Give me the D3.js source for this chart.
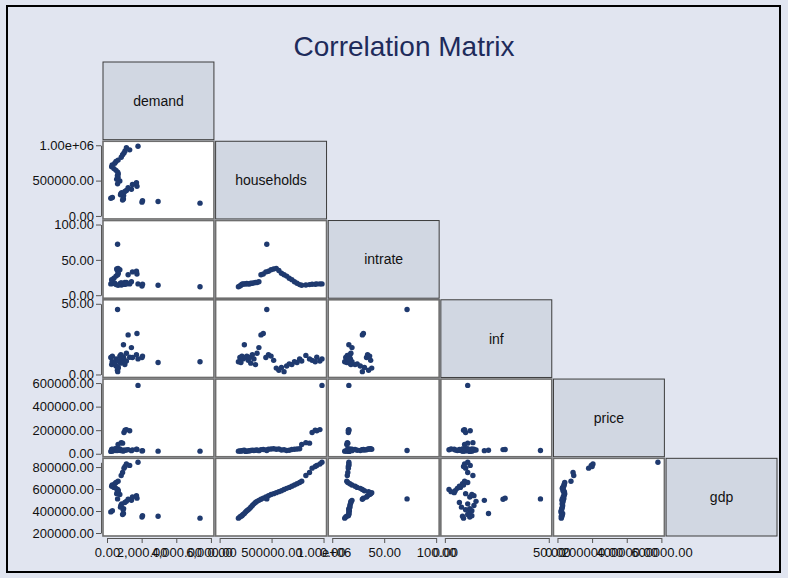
<!DOCTYPE html>
<html>
<head>
<meta charset="utf-8">
<script src="https://cdn.jsdelivr.net/npm/d3@7"></script>
<style>
  body { margin: 0; background: #ffffff; }
  svg { display: block; }
  text { font-family: "Liberation Sans", Arial, Helvetica, sans-serif; }
</style>
</head>
<body>
<svg id="chart" width="788" height="578"></svg>
<script>
// Variables shown in the lower-triangle scatter matrix, in display order
const variables = ["demand", "households", "intrate", "inf", "price", "gdp"];

// One value per observation (same order in every array)
const demand = [5370, 2020, 2950, 2050, 900, 950, 220, 310, 930, 960, 780, 800, 850, 1030, 1120, 1410,
  1220, 1730, 1470, 1700, 740, 560, 640, 600, 650, 620, 520, 400, 270, 300, 450, 520,
  640, 820, 900, 980, 1040, 1310, 1120, 1790, 610];
const households = [181000, 195000, 205000, 215000, 225000, 238000, 250000, 262000, 275000, 288000,
  300000, 315000, 330000, 345000, 360000, 378000, 398000, 420000, 445000, 470000, 495000, 520000,
  545000, 570000, 595000, 620000, 645000, 670000, 695000, 720000, 745000, 770000,
  790000, 830000, 865000, 890000, 920000, 935000, 965000, 985000, 454000];
const intrate = [12, 13, 14, 15.5, 16, 16, 16, 16.5, 16, 16, 17, 17, 17.5, 18, 18, 19,
  29, 30, 33, 34, 36, 37, 38, 35, 31, 29, 27, 24, 22, 19, 17, 15,
  14, 14.5, 15, 15.5, 15.5, 16, 16, 16, 72];
const inf = [9, 12, 8.5, 13, 11, 21, 12, 13, 10, 12, 8, 14, 11, 7, 15, 19,
  28, 29, 12, 14, 13, 10, 4.5, 3, 5, 2, 6, 7.5, 7, 9, 8.5, 11,
  9.5, 13.5, 11, 10, 9, 12.2, 9.5, 11, 46];
const price = [22000, 24000, 22000, 26000, 28000, 30000, 20000, 22000, 24000, 25000, 28000, 30000,
  27000, 30000, 32000, 26000, 35000, 36000, 33000, 38000, 40000, 42000, 38000, 40000, 32000,
  34000, 28000, 30000, 36000, 38000, 40000, 42000,
  78000, 94000, 90000, 180000, 200000, 195000, 205000, 580000, 28000];
const gdp = [335000, 345000, 352000, 358000, 368000, 378000, 392000, 402000, 412000, 422000,
  435000, 450000, 465000, 478000, 488000, 497000, 507000, 517000, 528000, 540000, 550000, 558000,
  567000, 576000, 585000, 596000, 606000, 615000, 625000, 636000, 648000, 660000,
  671000, 723000, 751000, 790000, 805000, 815000, 828000, 843000, 510000];

// Axis ticks and their printed labels
const demandTicks = [0, 2000, 4000, 6000];
const demandLabels = ["0.00", "2,000.00", "4,000.00", "6,000.00"];
const householdsTicks = [0, 500000, 1000000];
const householdsLabels = ["0.00", "500000.00", "1.00e+06"];
const intrateTicks = [0, 50, 100];
const intrateLabels = ["0.00", "50.00", "100.00"];
const infTicks = [0, 50];
const infLabels = ["0.00", "50.00"];
const priceTicks = [0, 200000, 400000, 600000];
const priceLabels = ["0.00", "200000.00", "400000.00", "600000.00"];
const gdpTicks = [200000, 400000, 600000, 800000];
const gdpLabels = ["200000.00", "400000.00", "600000.00", "800000.00"];

const title = "Correlation Matrix";

const values = { demand, households, intrate, inf, price, gdp };
const ticks = { demand: demandTicks, households: householdsTicks, intrate: intrateTicks,
  inf: infTicks, price: priceTicks, gdp: gdpTicks };
const tickLabels = { demand: demandLabels, households: householdsLabels, intrate: intrateLabels,
  inf: infLabels, price: priceLabels, gdp: gdpLabels };

const W = 788, H = 578;
const svg = d3.select("#chart");

// page background and frame
svg.append("rect").attr("width", W).attr("height", H).attr("fill", "#e1e5f0");
svg.append("rect").attr("x", 7).attr("y", 6).attr("width", 773).attr("height", 566)
  .attr("fill", "none").attr("stroke", "#000").attr("stroke-width", 2);

svg.append("text")
  .attr("x", 404).attr("y", 56)
  .attr("text-anchor", "middle")
  .attr("font-size", 28)
  .attr("fill", "#1e2b5b")
  .text(title);

// matrix layout
const n = variables.length;
const cellX = d3.scaleBand().domain(d3.range(n)).range([103, 777]).paddingInner(0.015);
const cellY = d3.scaleBand().domain(d3.range(n)).range([62, 536]).paddingInner(0.02);
const bw = cellX.bandwidth(), bh = cellY.bandwidth();

// each variable's scale covers its data and its tick range
function extentOf(v) {
  const t = ticks[v], d = values[v];
  return [Math.min(d3.min(d), t[0]), Math.max(d3.max(d), t[t.length - 1])];
}
const xScale = {}, yScale = {};
variables.forEach((v, k) => {
  const x0 = cellX(k), y0 = cellY(k);
  xScale[v] = d3.scaleLinear().domain(extentOf(v)).range([x0 + 4, x0 + bw - 3]);
  yScale[v] = d3.scaleLinear().domain(extentOf(v)).range([y0 + bh - 3, y0 + 4]);
});

const nObs = demand.length;
const markerColor = "#1f3a6f";

for (let i = 0; i < n; i++) {
  for (let j = 0; j <= i; j++) {
    const g = svg.append("g");
    const x0 = cellX(j), y0 = cellY(i);
    if (i === j) {
      g.append("rect").attr("x", x0).attr("y", y0).attr("width", bw).attr("height", bh)
        .attr("fill", "#d1d7e2").attr("stroke", "#3c3c3c").attr("stroke-width", 1);
      g.append("text")
        .attr("x", x0 + bw / 2).attr("y", y0 + bh / 2)
        .attr("dy", "0.35em")
        .attr("text-anchor", "middle")
        .attr("font-size", 14)
        .attr("fill", "#111")
        .text(variables[i]);
    } else {
      const vx = variables[j], vy = variables[i];
      g.append("rect").attr("x", x0).attr("y", y0).attr("width", bw).attr("height", bh)
        .attr("fill", "#ffffff").attr("stroke", "#6e6e6e").attr("stroke-width", 1.6);
      g.selectAll("circle")
        .data(d3.range(nObs))
        .join("circle")
        .attr("cx", k => xScale[vx](values[vx][k]))
        .attr("cy", k => yScale[vy](values[vy][k]))
        .attr("r", 2.7)
        .attr("fill", markerColor);
    }
  }
}

// left axes: one per row, for the variable plotted vertically
for (let i = 1; i < n; i++) {
  const v = variables[i];
  const labels = tickLabels[v];
  const ax = d3.axisLeft(yScale[v])
    .tickValues(ticks[v])
    .tickFormat((d, k) => labels[k])
    .tickSize(5).tickSizeOuter(0).tickPadding(2);
  const g = svg.append("g").attr("transform", `translate(${cellX(0) - 2},0)`).call(ax);
  g.select(".domain").attr("stroke", "#555");
  g.selectAll(".tick line").attr("stroke", "#555");
  g.selectAll(".tick text").attr("font-size", 13).attr("fill", "#111")
    .attr("font-family", "'Liberation Sans', Arial, sans-serif");
}

// bottom axes: one per column, for the variable plotted horizontally
const axisY = cellY(n - 1) + bh + 2;
for (let j = 0; j < n - 1; j++) {
  const v = variables[j];
  const labels = tickLabels[v];
  const ax = d3.axisBottom(xScale[v])
    .tickValues(ticks[v])
    .tickFormat((d, k) => labels[k])
    .tickSize(5).tickSizeOuter(0).tickPadding(5);
  const g = svg.append("g").attr("transform", `translate(0,${axisY})`).call(ax);
  g.select(".domain").attr("stroke", "#555");
  g.selectAll(".tick line").attr("stroke", "#555");
  g.selectAll(".tick text").attr("font-size", 13).attr("fill", "#111")
    .attr("font-family", "'Liberation Sans', Arial, sans-serif");
}
</script>
</body>
</html>
